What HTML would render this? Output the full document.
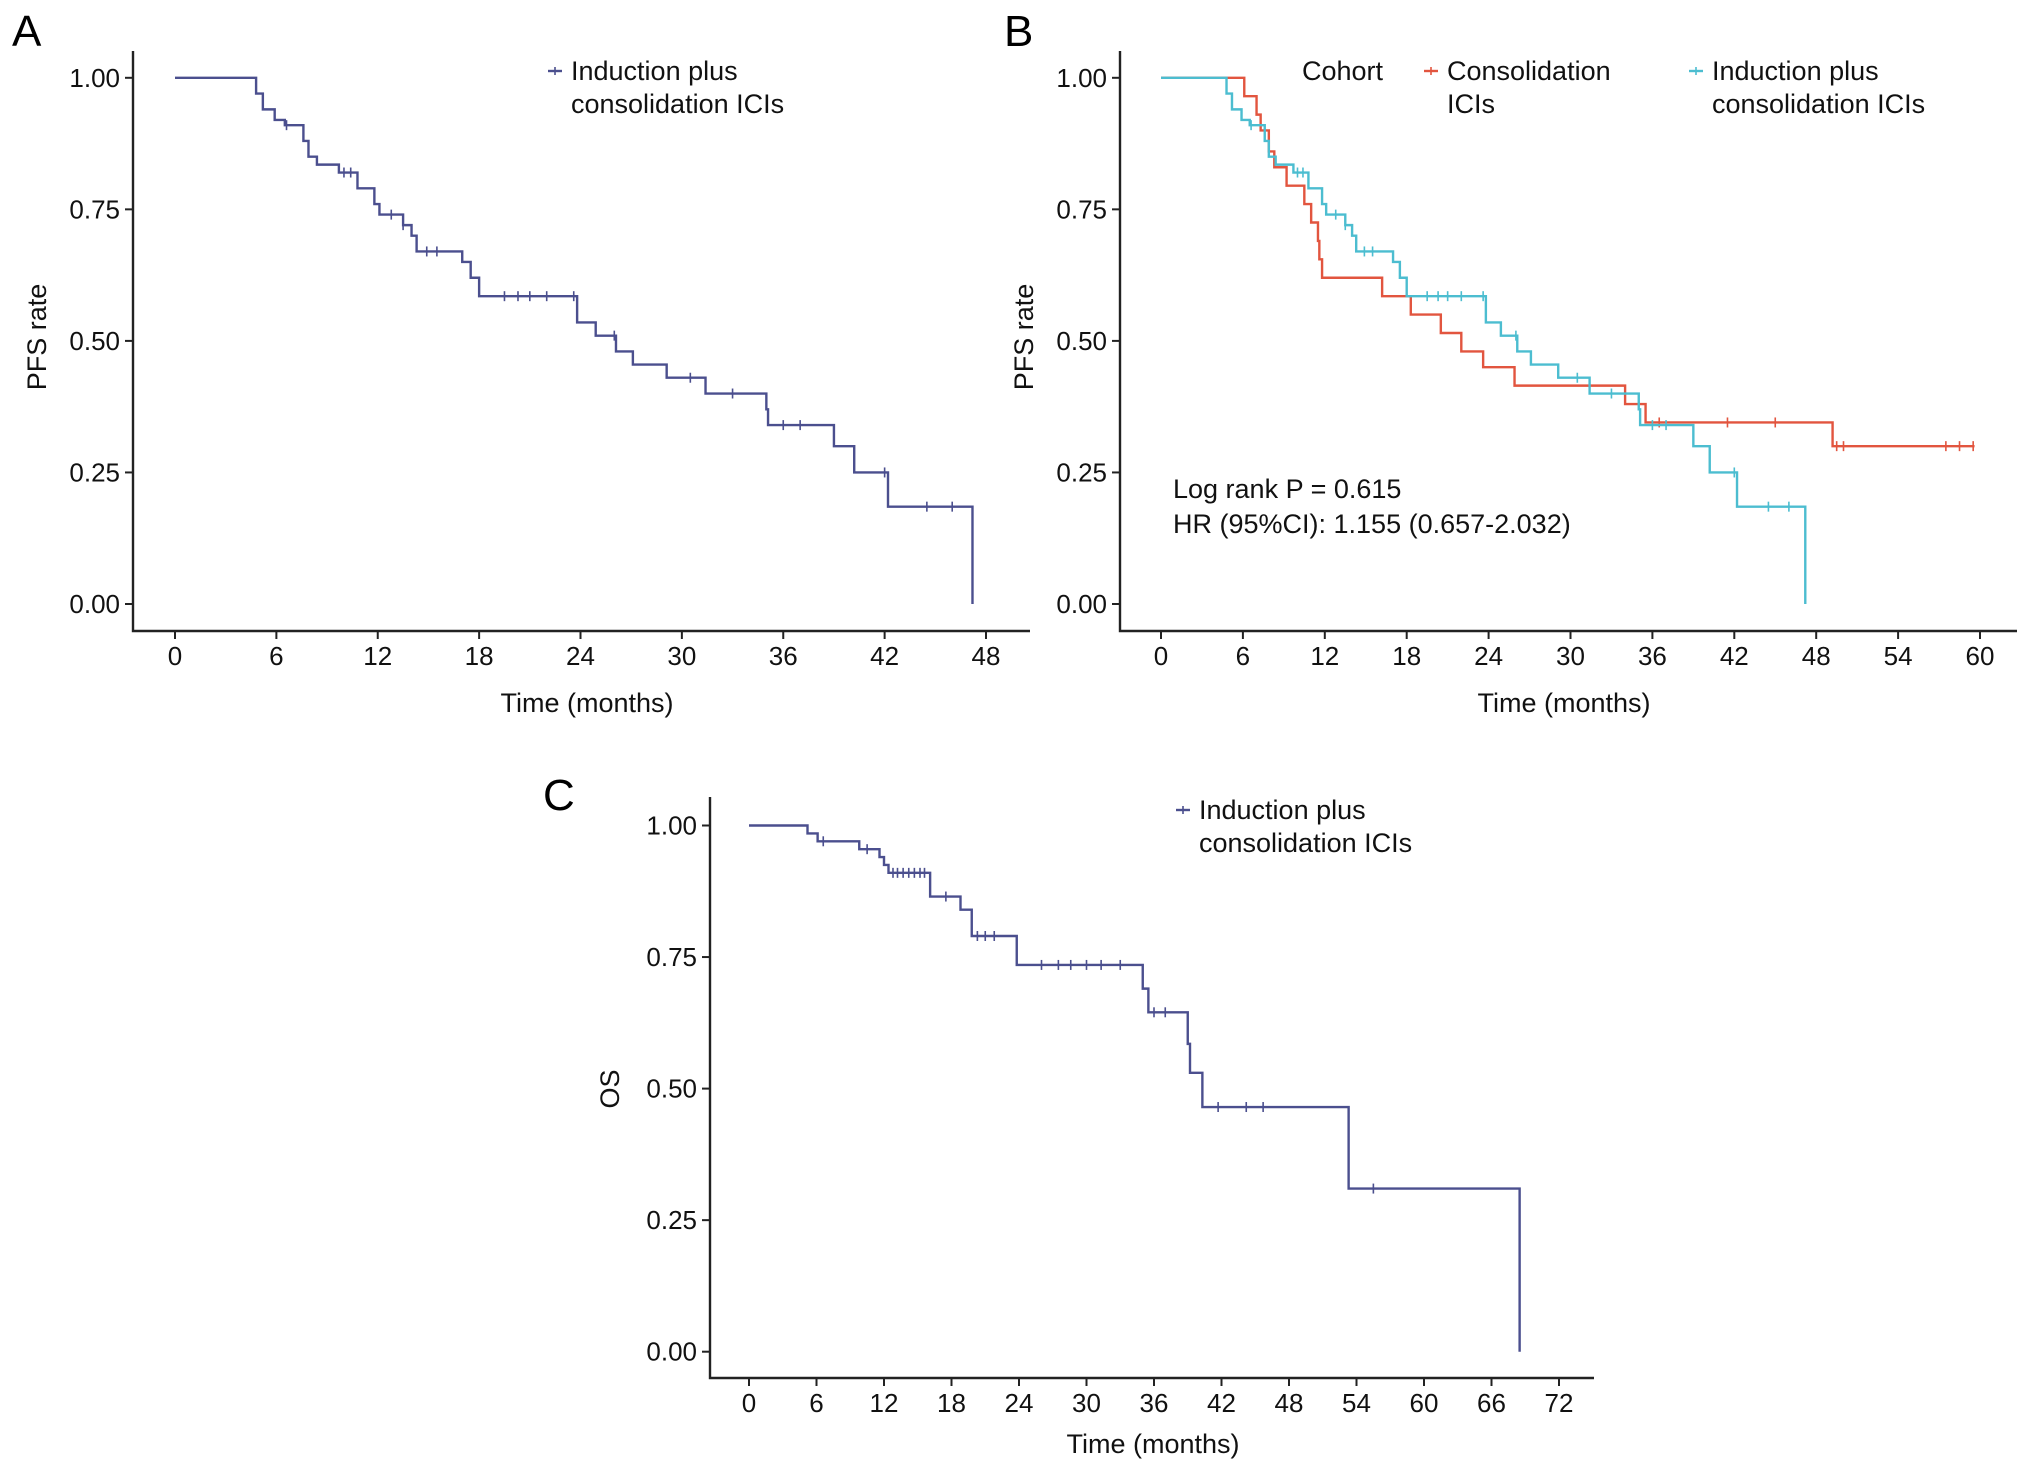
<!DOCTYPE html>
<html><head><meta charset="utf-8">
<style>
html,body{margin:0;padding:0;background:#fff;}
svg{display:block;font-family:"Liberation Sans Narrow","Liberation Sans",sans-serif;}
</style></head>
<body>
<svg id="fig" width="2032" height="1473" viewBox="0 0 2032 1473"></svg>
<script>
// Panel A / B cyan: induction plus consolidation PFS
const pfsIndTimes = [4.8,5.2,5.9,6.5,7.6,7.9,8.4,9.7,10.8,11.8,12.1,13.5,14.0,14.3,17.0,17.5,18.0,23.8,24.9,26.1,27.1,29.1,31.4,35.0,35.1,39.0,40.2,42.2,47.2];
const pfsIndSurv  = [0.97,0.94,0.92,0.91,0.88,0.85,0.835,0.82,0.79,0.76,0.74,0.72,0.70,0.67,0.65,0.62,0.585,0.535,0.51,0.48,0.455,0.43,0.40,0.37,0.34,0.30,0.25,0.185,0.0];
const pfsIndCensor = [6.6,10.0,10.4,12.8,13.5,14.9,15.5,19.5,20.3,21.0,22.0,23.6,26.0,30.5,33.0,36.0,37.0,42.0,44.5,46.0];
// Panel B red: consolidation ICIs PFS
const pfsConTimes = [6.1,7.0,7.3,7.9,8.3,9.2,10.5,11.0,11.5,11.6,11.8,16.2,18.3,20.5,22.0,23.6,25.9,34.0,35.5,49.2];
const pfsConSurv  = [0.965,0.93,0.90,0.86,0.83,0.795,0.76,0.725,0.69,0.655,0.62,0.585,0.55,0.515,0.48,0.45,0.415,0.38,0.345,0.30];
const pfsConCensor = [36.5,41.5,45.0,49.5,50.0,57.5,58.5,59.5];
const pfsConEnd = 59.6;
// Panel C: OS
const osTimes = [5.2,6.1,9.8,11.6,12.0,12.4,16.1,18.8,19.8,23.8,35.0,35.5,39.0,39.2,40.3,53.3,68.5];
const osSurv  = [0.985,0.97,0.955,0.94,0.925,0.91,0.865,0.84,0.79,0.735,0.69,0.645,0.585,0.53,0.465,0.31,0.0];
const osCensor = [6.6,10.5,12.8,13.2,13.7,14.2,14.7,15.2,15.6,17.5,20.3,21.0,21.8,26.0,27.5,28.6,30.0,31.3,33.0,36.0,37.0,41.7,44.2,45.7,55.5];
const yTicks = [0,0.25,0.5,0.75,1.0];
const yTickLabels = ["0.00","0.25","0.50","0.75","1.00"];
const xTicksAB = [0,6,12,18,24,30,36,42,48];
const xTicksB = [0,6,12,18,24,30,36,42,48,54,60];
const xTicksC = [0,6,12,18,24,30,36,42,48,54,60,66,72];

const NS="http://www.w3.org/2000/svg";
const svg=document.getElementById('fig');
function el(tag,attrs,parent){const e=document.createElementNS(NS,tag);for(const k in attrs)e.setAttribute(k,attrs[k]);(parent||svg).appendChild(e);return e;}
function txt(s,attrs,parent){const t=el('text',attrs,parent);t.textContent=s;return t;}

function panel(cfg){
  const g=el('g',{});
  
  
  const xs=v=>cfg.x0+(v/cfg.xmax)*(cfg.x1-cfg.x0);
  const ys=v=>cfg.y0+(v)*(cfg.y1-cfg.y0);
  const ax=el('path',{d:`M${cfg.ax} ${cfg.top} V${cfg.axy} H${cfg.axr}`,stroke:'#222',fill:'none','stroke-width':2.4},g);
  
  
  yTicks.forEach((v,i)=>{
    el('line',{x1:cfg.ax-8,x2:cfg.ax,y1:ys(v),y2:ys(v),stroke:'#222','stroke-width':2},g);
    const t=txt(yTickLabels[i],{x:cfg.ax-13,y:ys(v)+9,'text-anchor':'end','font-size':26,fill:'#111'},g);
    
    
  });
  cfg.xticks.forEach(v=>{
    el('line',{x1:xs(v),x2:xs(v),y1:cfg.axy,y2:cfg.axy+8,stroke:'#222','stroke-width':2},g);
    const t=txt(String(v),{x:xs(v),y:cfg.axy+34,'text-anchor':'middle','font-size':26,fill:'#111'},g);
    
    
  });
  const xt=txt('Time (months)',{x:cfg.xtx,y:cfg.xty,'text-anchor':'middle','font-size':27,fill:'#111'},g);
  
  
  const yt=txt(cfg.ytitle,{x:0,y:0,transform:`translate(${cfg.ytx},${cfg.yty}) rotate(-90)`,'text-anchor':'middle','font-size':27,fill:'#111'},g);
  
  
  const pl=txt(cfg.label,{x:cfg.lx,y:cfg.ly,'font-size':44,fill:'#000'},g);
  
  
  cfg.series.forEach(s=>{
    let d=`M${xs(0)} ${ys(1)}`;
    s.times.forEach((t,i)=>{d+=` H${xs(t)} V${ys(s.surv[i])}`;});
    if(s.end!==undefined)d+=` H${xs(s.end)}`;
    const p=el('path',{d,stroke:s.color,fill:'none','stroke-width':2.4},g);
    
    
    s.censor.forEach(c=>{
      let sv=1;s.times.forEach((t,i)=>{if(t<=c)sv=s.surv[i];});
      const m=el('line',{x1:xs(c),x2:xs(c),y1:ys(sv)-5,y2:ys(sv)+5,stroke:s.color,'stroke-width':1.6},g);
      
      
    });
  });
  return g;
}
const navy='#4b4f8e', red='#e2553f', cyan='#4cbdd0';
panel({name:'panel-a',label:'A',lx:12,ly:46,ax:133,top:51,axy:631,axr:1030,x0:175,x1:986,xmax:48,y0:604,y1:77.8,xticks:xTicksAB,
  ytitle:'PFS rate',ytx:46,yty:337,xtx:587,xty:712,
  series:[{name:'induction-a',times:pfsIndTimes,surv:pfsIndSurv,censor:pfsIndCensor,color:navy}]});
panel({name:'panel-b',label:'B',lx:1004,ly:46,ax:1120,top:51,axy:631,axr:2017,x0:1161,x1:1980,xmax:60,y0:604,y1:77.8,xticks:xTicksB,
  ytitle:'PFS rate',ytx:1033,yty:337,xtx:1564,xty:712,
  series:[{name:'consolidation-b',times:pfsConTimes,surv:pfsConSurv,censor:pfsConCensor,color:red,end:pfsConEnd},
          {name:'induction-b',times:pfsIndTimes,surv:pfsIndSurv,censor:pfsIndCensor,color:cyan}]});
panel({name:'panel-c',label:'C',lx:543,ly:810,ax:710,top:797,axy:1378,axr:1594,x0:749,x1:1559,xmax:72,y0:1351.7,y1:825.5,xticks:xTicksC,
  ytitle:'OS',ytx:619,yty:1089,xtx:1153,xty:1453,
  series:[{name:'os-c',times:osTimes,surv:osSurv,censor:osCensor,color:navy}]});

function legend(x,y,color,lines,name){
  const g=el('g',{});
  
  
  el('line',{x1:x,x2:x+14,y1:y-9,y2:y-9,stroke:color,'stroke-width':2.4},g);
  el('line',{x1:x+7,x2:x+7,y1:y-13,y2:y-5,stroke:color,'stroke-width':1.6},g);
  lines.forEach((l,i)=>txt(l,{x:x+23,y:y+i*33,'font-size':27,fill:'#111'},g));
}
legend(548,80,navy,['Induction plus','consolidation ICIs'],'legend-entry-a');
const co=txt('Cohort',{x:1302,y:80,'font-size':27,fill:'#111'});


legend(1424,80,red,['Consolidation','ICIs'],'legend-entry-consolidation');
legend(1689,80,cyan,['Induction plus','consolidation ICIs'],'legend-entry-induction');
legend(1176,819,navy,['Induction plus','consolidation ICIs'],'legend-entry-c');
const a1=txt('Log rank P = 0.615',{x:1173,y:498,'font-size':27,fill:'#111'});


const a2=txt('HR (95%CI): 1.155 (0.657-2.032)',{x:1173,y:533,'font-size':27,fill:'#111'});


</script>
</body></html>
